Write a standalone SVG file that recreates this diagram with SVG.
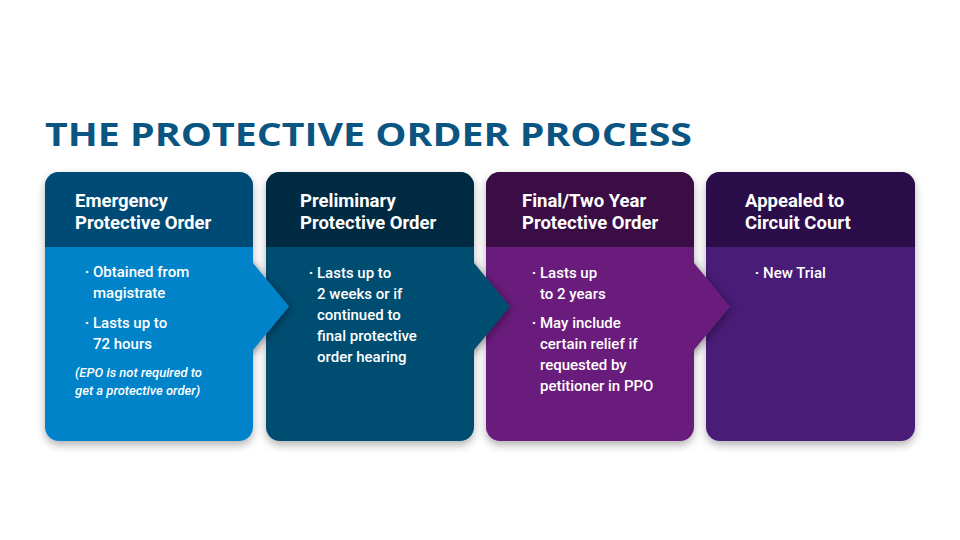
<svg xmlns="http://www.w3.org/2000/svg" width="960" height="540" viewBox="0 0 960 540">
<defs>
<style>
.title{font-family:"Open Sans","Liberation Sans",sans-serif;font-weight:700;font-size:33px;fill:#0b5583}
.hd{font-family:Roboto,"Liberation Sans",sans-serif;font-weight:700;font-size:18.5px;fill:#fff}
.bd{font-family:Roboto,"Liberation Sans",sans-serif;font-weight:500;font-size:15px;fill:#fff}
.nt{font-family:Roboto,"Liberation Sans",sans-serif;font-weight:500;font-style:italic;font-size:13px;fill:#fff}
.bu{font-family:Roboto,"Liberation Sans",sans-serif;font-weight:700;font-size:15px;fill:#fff;text-anchor:middle}
</style>
<filter id="sh" x="-20%" y="-20%" width="140%" height="140%">
<feDropShadow dx="0" dy="4" stdDeviation="4" flood-color="#000" flood-opacity="0.3"/>
</filter>
<filter id="ash" x="-50%" y="-50%" width="200%" height="200%">
<feDropShadow dx="1" dy="2" stdDeviation="4" flood-color="#000" flood-opacity="0.45"/>
</filter>
<clipPath id="c1" clipPathUnits="userSpaceOnUse"><rect x="252.5" y="240" width="70" height="130"/></clipPath>
<clipPath id="c2" clipPathUnits="userSpaceOnUse"><rect x="473.5" y="240" width="70" height="130"/></clipPath>
<clipPath id="c3" clipPathUnits="userSpaceOnUse"><rect x="693.5" y="240" width="70" height="130"/></clipPath>
</defs>
<rect width="960" height="540" fill="#fff"/>
<text class="title" x="45" y="146" textLength="647" lengthAdjust="spacingAndGlyphs">THE PROTECTIVE ORDER PROCESS</text>

<g id="node4">
<g filter="url(#sh)">
<rect x="706" y="172" width="209" height="269" rx="14" fill="#491a78"/>
<path d="M706,247 V186 A14,14 0 0 1 720,172 H901 A14,14 0 0 1 915,186 V247 Z" fill="#2a1048"/>
</g>
<text class="hd" x="745" y="207">Appealed to</text>
<text class="hd" x="745" y="229">Circuit Court</text>
<text class="bu" x="757" y="278">·</text>
<text class="bd" x="763" y="278">New Trial</text>
</g>

<g id="node3">
<g filter="url(#sh)">
<rect x="486" y="172" width="208" height="269" rx="14" fill="#6a1e7b"/>
<path d="M486,247 V186 A14,14 0 0 1 500,172 H680 A14,14 0 0 1 694,186 V247 Z" fill="#3a1145"/>
</g>
<text class="hd" x="522" y="207">Final/Two Year</text>
<text class="hd" x="522" y="229">Protective Order</text>
<text class="bu" x="534" y="278">·</text>
<text class="bd" x="540" y="278">Lasts up</text>
<text class="bd" x="540" y="299">to 2 years</text>
<text class="bu" x="534" y="328">·</text>
<text class="bd" x="540" y="328">May include</text>
<text class="bd" x="540" y="349">certain relief if</text>
<text class="bd" x="540" y="370">requested by</text>
<text class="bd" x="540" y="391">petitioner in PPO</text>
</g>

<g id="node2">
<g filter="url(#sh)">
<rect x="266" y="172" width="208" height="269" rx="14" fill="#004d72"/>
<path d="M266,247 V186 A14,14 0 0 1 280,172 H460 A14,14 0 0 1 474,186 V247 Z" fill="#002a42"/>
</g>
<text class="hd" x="300" y="207">Preliminary</text>
<text class="hd" x="300" y="229">Protective Order</text>
<text class="bu" x="311" y="278">·</text>
<text class="bd" x="317" y="278">Lasts up to</text>
<text class="bd" x="317" y="299">2 weeks or if</text>
<text class="bd" x="317" y="320">continued to</text>
<text class="bd" x="317" y="341">final protective</text>
<text class="bd" x="317" y="362">order hearing</text>
</g>

<g id="node1">
<g filter="url(#sh)">
<rect x="45" y="172" width="208" height="269" rx="14" fill="#0083c9"/>
<path d="M45,247 V186 A14,14 0 0 1 59,172 H239 A14,14 0 0 1 253,186 V247 Z" fill="#004b76"/>
</g>
<text class="hd" x="75" y="207">Emergency</text>
<text class="hd" x="75" y="229">Protective Order</text>
<text class="bu" x="87" y="277">·</text>
<text class="bd" x="93" y="277">Obtained from</text>
<text class="bd" x="93" y="298">magistrate</text>
<text class="bu" x="87" y="328">·</text>
<text class="bd" x="93" y="328">Lasts up to</text>
<text class="bd" x="93" y="349">72 hours</text>
<text class="nt" x="75" y="377">(EPO is not required to</text>
<text class="nt" x="75" y="395">get a protective order)</text>
</g>

<g id="connectors">
<g clip-path="url(#c1)"><path filter="url(#ash)" d="M235,263 H253 L289,306.5 L253,350 H235 Z" fill="#0083c9"/></g>
<g clip-path="url(#c2)"><path filter="url(#ash)" d="M455,263 H474 L510,306.5 L474,350 H455 Z" fill="#004d72"/></g>
<g clip-path="url(#c3)"><path filter="url(#ash)" d="M675,263 H694 L730,306.5 L694,350 H675 Z" fill="#6a1e7b"/></g>
</g>
</svg>
